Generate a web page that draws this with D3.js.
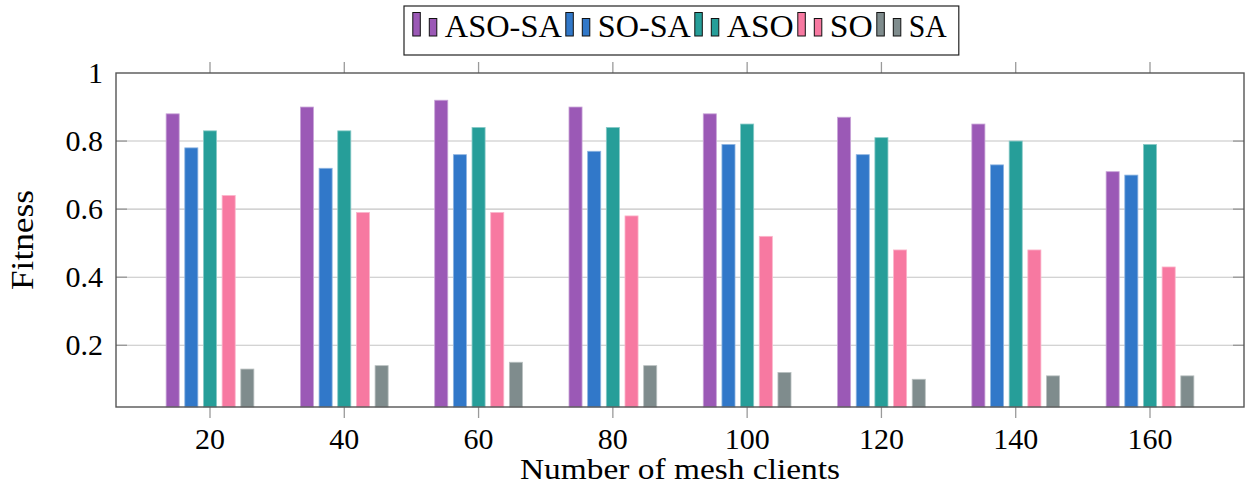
<!DOCTYPE html>
<html>
<head>
<meta charset="utf-8">
<script src="https://cdn.jsdelivr.net/npm/d3@7"></script>
<style>
  html, body { margin: 0; padding: 0; background: #fff; }
  svg { display: block; }
  text { font-family: "Liberation Serif", "Times New Roman", serif; fill: #000; }
</style>
</head>
<body>
<svg id="chart" width="1247" height="488"></svg>
<script>
// Fitness per number of mesh clients, one array per algorithm
const clients = [20, 40, 60, 80, 100, 120, 140, 160];
const seriesNames = ["ASO-SA", "SO-SA", "ASO", "SO", "SA"];
const asoSa = [0.88, 0.90, 0.92, 0.90, 0.88, 0.87, 0.85, 0.71];
const soSa  = [0.78, 0.72, 0.76, 0.77, 0.79, 0.76, 0.73, 0.70];
const aso   = [0.83, 0.83, 0.84, 0.84, 0.85, 0.81, 0.80, 0.79];
const so    = [0.64, 0.59, 0.59, 0.58, 0.52, 0.48, 0.48, 0.43];
const sa    = [0.13, 0.14, 0.15, 0.14, 0.12, 0.10, 0.11, 0.11];
const yTicks = [0.2, 0.4, 0.6, 0.8, 1];
const yTickLabels = ["0.2", "0.4", "0.6", "0.8", "1"];

const seriesValues = [asoSa, soSa, aso, so, sa];
const colors = ["#9b59b6", "#3178c9", "#269e99", "#f779a1", "#7f8c8d"];

const svg = d3.select("#chart");
const plotLeft = 116, plotRight = 1244, plotTop = 73, plotBottom = 407;
const yMin = 0.0185;

const x = d3.scaleLinear().domain([6, 174]).range([plotLeft, plotRight]);
const y = d3.scaleLinear().domain([yMin, 1]).range([plotBottom, plotTop]);
const dodge = d3.scaleBand().domain(seriesNames)
  .range([-46.67, 46.67]).paddingInner(0.3).paddingOuter(0.15);

// horizontal grid lines
svg.append("g").selectAll("line").data(yTicks.filter(v => v < 1)).join("line")
  .attr("x1", plotLeft).attr("x2", plotRight)
  .attr("y1", d => y(d)).attr("y2", d => y(d))
  .attr("stroke", "#c4c4c4").attr("stroke-width", 1.1);

// y ticks (inside, both sides)
const yt = svg.append("g");
yTicks.filter(v => v < 1).forEach(v => {
  yt.append("line").attr("x1", plotLeft).attr("x2", plotLeft + 11).attr("y1", y(v)).attr("y2", y(v))
    .attr("stroke", "#8a8a8a").attr("stroke-width", 1.1);
  yt.append("line").attr("x1", plotRight - 11).attr("x2", plotRight).attr("y1", y(v)).attr("y2", y(v))
    .attr("stroke", "#8a8a8a").attr("stroke-width", 1.1);
});

// bars
const groups = svg.append("g").selectAll("g").data(seriesNames).join("g")
  .attr("fill", (d, i) => colors[i]);
groups.selectAll("rect")
  .data((name, i) => clients.map((c, j) => ({ name, c, v: seriesValues[i][j], col: colors[i] })))
  .join("rect")
  .attr("x", d => x(d.c) + dodge(d.name))
  .attr("width", dodge.bandwidth())
  .attr("y", d => y(d.v))
  .attr("height", d => y(yMin) - y(d.v))
  .attr("stroke", d => d3.interpolateRgb(d.col, "#ffffff")(0.45))
  .attr("stroke-width", 0.8);

// x ticks (outside, top and bottom)
const xt = svg.append("g");
clients.forEach(c => {
  xt.append("line").attr("x1", x(c)).attr("x2", x(c)).attr("y1", plotBottom).attr("y2", plotBottom + 11)
    .attr("stroke", "#9a9a9a").attr("stroke-width", 1.3);
  xt.append("line").attr("x1", x(c)).attr("x2", x(c)).attr("y1", plotTop - 11).attr("y2", plotTop)
    .attr("stroke", "#9a9a9a").attr("stroke-width", 1.3);
});

// frame
svg.append("rect").attr("x", plotLeft).attr("y", plotTop)
  .attr("width", plotRight - plotLeft).attr("height", plotBottom - plotTop)
  .attr("fill", "none").attr("stroke", "#555").attr("stroke-width", 1.4);

// tick labels
svg.append("g").selectAll("text").data(clients).join("text")
  .attr("x", d => x(d)).attr("y", 449)
  .attr("text-anchor", "middle").attr("font-size", 29)
  .attr("textLength", d => String(d).length * 15)
  .attr("lengthAdjust", "spacingAndGlyphs")
  .text(d => d);
svg.append("g").selectAll("text").data(yTicks).join("text")
  .attr("x", 103).attr("y", d => y(d) + 10)
  .attr("text-anchor", "end").attr("font-size", 30)
  .text((d, i) => yTickLabels[i]);

// axis titles
svg.append("text").attr("x", (plotLeft + plotRight) / 2).attr("y", 479)
  .attr("text-anchor", "middle").attr("font-size", 29)
  .attr("textLength", 320).attr("lengthAdjust", "spacingAndGlyphs")
  .text("Number of mesh clients");
svg.append("text").attr("transform", "translate(33,240) rotate(-90)")
  .attr("text-anchor", "middle").attr("font-size", 31)
  .attr("textLength", 100).attr("lengthAdjust", "spacingAndGlyphs")
  .text("Fitness");

// legend
const legend = svg.append("g");
const legendBox = legend.append("rect").attr("y", 6).attr("height", 49)
  .attr("fill", "#fff").attr("stroke", "#222").attr("stroke-width", 1.2);
const textWidths = [117, 93, 67, 43, 38];
let lx = 412.8;
let textEnd = lx;
seriesNames.forEach((name, i) => {
  legend.append("rect").attr("x", lx).attr("y", 12.5).attr("width", 7.5).attr("height", 23.5)
    .attr("fill", colors[i]).attr("stroke", "#111").attr("stroke-width", 1);
  legend.append("rect").attr("x", lx + 16.5).attr("y", 18.5).attr("width", 7.5).attr("height", 17.5)
    .attr("fill", colors[i]).attr("stroke", "#111").attr("stroke-width", 1);
  legend.append("text").attr("x", lx + 32).attr("y", 36.5).attr("font-size", 31)
    .attr("textLength", textWidths[i]).attr("lengthAdjust", "spacingAndGlyphs")
    .text(name);
  textEnd = lx + 32 + textWidths[i];
  lx = textEnd + 4;
});
legendBox.attr("x", 404).attr("width", textEnd + 12 - 404);
</script>
</body>
</html>
